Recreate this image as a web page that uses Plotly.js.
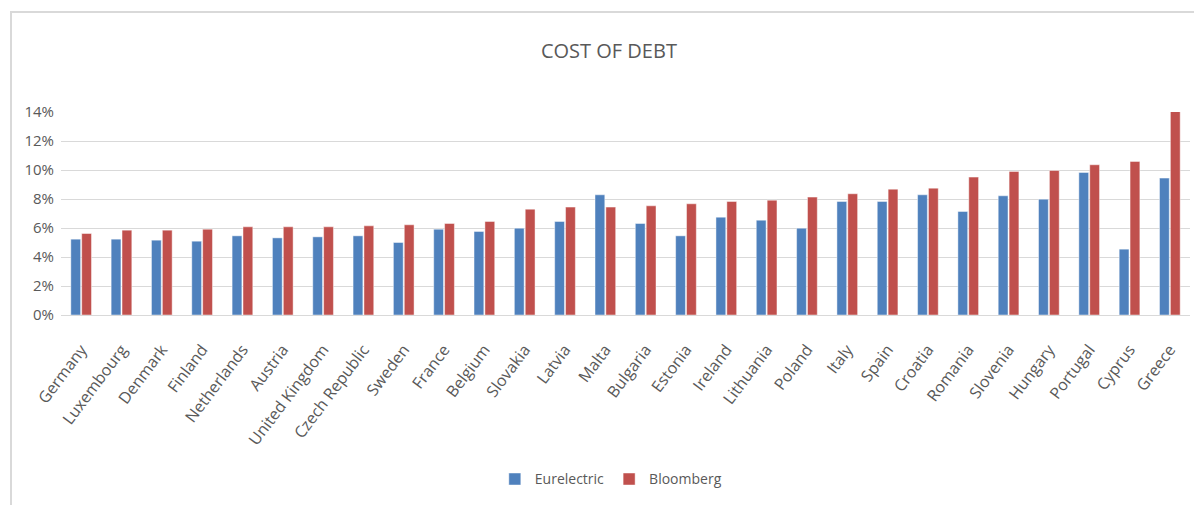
<!DOCTYPE html>
<html>
<head>
<meta charset="utf-8">
<script src="https://cdn.plot.ly/plotly-3.0.1.min.js"></script>
<style>
  html, body { margin: 0; padding: 0; background: #ffffff; }
  #wrap { position: relative; width: 1194px; height: 505px; overflow: hidden; }
  #frame { position: absolute; left: 10px; top: 11px; width: 1300px; height: 600px;
           border-top: 2px solid #d9d9d9; border-left: 2px solid #d9d9d9; box-sizing: border-box; }
  #chart { position: absolute; left: 0; top: 0; width: 1194px; height: 505px; }
</style>
</head>
<body>
<div id="wrap">
  <div id="frame"></div>
  <div id="chart"></div>
</div>
<script>
const countries = ["Germany","Luxembourg","Denmark","Finland","Netherlands","Austria","United Kingdom",
  "Czech Republic","Sweden","France","Belgium","Slovakia","Latvia","Malta","Bulgaria","Estonia",
  "Ireland","Lithuania","Poland","Italy","Spain","Croatia","Romania","Slovenia","Hungary",
  "Portugal","Cyprus","Greece"];
const eurelectric = [5.23,5.23,5.16,5.09,5.46,5.32,5.39,5.46,5.00,5.92,5.76,5.99,6.45,8.29,6.31,5.46,
  6.75,6.54,5.99,7.83,7.83,8.29,7.14,8.22,7.99,9.83,4.54,9.44].map(v => v / 100);
const bloomberg = [5.62,5.85,5.85,5.92,6.08,6.08,6.08,6.15,6.22,6.31,6.45,7.30,7.44,7.44,7.53,7.67,
  7.83,7.92,8.13,8.36,8.68,8.75,9.51,9.90,9.97,10.36,10.59,14.11].map(v => v / 100);
const yTicks = [0,0.02,0.04,0.06,0.08,0.10,0.12,0.14];
const yTickText = ["0%","2%","4%","6%","8%","10%","12%","14%"];

const FONT = '"Open Sans", "Noto Sans", sans-serif';
const GREY = '#595959';

const traces = [
  { type: 'bar', name: 'Eurelectric', x: countries, y: eurelectric,
    marker: { color: '#4F81BD', line: { color: 'rgba(255,255,255,0.45)', width: 1 } } },
  { type: 'bar', name: 'Bloomberg', x: countries, y: bloomberg,
    marker: { color: '#C0504D', line: { color: 'rgba(255,255,255,0.45)', width: 1 } } }
];

const layout = {
  width: 1194, height: 505,
  paper_bgcolor: 'rgba(0,0,0,0)', plot_bgcolor: 'rgba(0,0,0,0)',
  margin: { l: 61, r: 4, t: 112, b: 190 },
  font: { family: FONT, color: GREY },
  title: { text: 'COST OF DEBT', x: 0.51, xanchor: 'center', y: 0.90, yanchor: 'middle',
           font: { family: FONT, size: 20, color: GREY } },
  barmode: 'group', bargap: 0.46, bargroupgap: 0.1,
  xaxis: { type: 'category', tickangle: -53, tickfont: { family: FONT, size: 16, color: GREY },
           showgrid: false, showline: true, linecolor: '#d9d9d9', linewidth: 1, ticks: '',
           ticklabelstandoff: 18 },
  yaxis: { range: [0, 0.14], tickvals: yTicks, ticktext: yTickText,
           tickfont: { family: FONT, size: 15, color: GREY },
           showgrid: true, gridcolor: '#d9d9d9', gridwidth: 1, zeroline: true, zerolinecolor: '#d9d9d9',
           showline: false, ticks: '', ticklabelstandoff: 6 },
  legend: { orientation: 'h', x: 0.487, xanchor: 'center', y: -0.81, yanchor: 'middle',
            font: { family: FONT, size: 14, color: GREY }, itemwidth: 30, traceorder: 'normal' },
  showlegend: true
};

Plotly.newPlot('chart', traces, layout, { displayModeBar: false, staticPlot: true });
</script>
</body>
</html>
